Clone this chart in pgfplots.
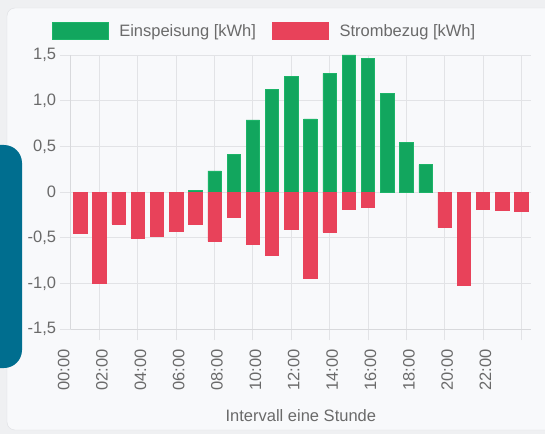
\documentclass[border=0pt]{standalone}
\usepackage{fontspec}
\setmainfont{Liberation Sans}
\usepackage{pgfplots}
\usepackage{pgfplotstable}
\pgfplotsset{compat=1.18}
\definecolor{bgout}{HTML}{EFF0F2}
\definecolor{card}{HTML}{F8F9FB}
\definecolor{cardborder}{HTML}{DFE0E3}
\definecolor{teal}{HTML}{006E8F}
\definecolor{einsp}{HTML}{12A65E}
\definecolor{einspb}{HTML}{1CB468}
\definecolor{bezug}{HTML}{E8425A}
\definecolor{gridgray}{HTML}{E2E3E6}
\definecolor{axgray}{HTML}{D8D9DC}
\definecolor{txtgray}{HTML}{6A6A6A}
\newcommand\chartfont{\fontsize{16.5}{19}\selectfont}

% hour (interval end), value
\pgfplotstableread{
x y
7 0.015
8 0.23
9 0.41
10 0.79
11 1.12
12 1.27
13 0.80
14 1.30
15 1.50
16 1.46
17 1.08
18 0.54
19 0.30
}\einspeisung
\pgfplotstableread{
x y
1 -0.45
2 -1.00
3 -0.35
4 -0.51
5 -0.48
6 -0.43
7 -0.35
8 -0.54
9 -0.28
10 -0.57
11 -0.69
12 -0.41
13 -0.95
14 -0.44
15 -0.19
16 -0.17
20 -0.39
21 -1.02
22 -0.19
23 -0.20
24 -0.21
}\strombezug

\begin{document}
\begin{tikzpicture}
\useasboundingbox (0,0) rectangle (545pt,434pt);
\clip (0,0) rectangle (545pt,434pt);
\fill[bgout] (0,0) rectangle (545pt,434pt);
\draw[cardborder, fill=card, rounded corners=8pt] (7pt,4pt) rectangle (570pt,426pt);
\fill[teal, rounded corners=18pt] (-30pt,66pt) rectangle (22pt,289pt);
\begin{axis}[
  at={(70.7pt,105pt)}, anchor=south west,
  scale only axis, width=460.3pt, height=274pt,
  xmin=0.5, xmax=24.5, ymin=-1.5, ymax=1.5,
  axis x line*=bottom, axis y line*=left,
  axis line style={draw=axgray, line width=0.9pt, -},
  xtick={2,4,...,24},
  xticklabels={02:00,04:00,06:00,08:00,10:00,12:00,14:00,16:00,18:00,20:00,22:00,{}},
  ytick={-1.5,-1,-0.5,0,0.5,1,1.5},
  yticklabels={{-1,5},{-1,0},{-0,5},0,{0,5},{1,0},{1,5}},
  tick align=outside, major tick length=11pt,
  tick style={draw=gridgray, line width=0.9pt},
  grid=major, grid style={draw=gridgray, line width=0.9pt},
  ticklabel style={font=\chartfont, text=txtgray},
  xticklabel style={xshift=2.5pt, yshift=-6pt, rotate=90, anchor=east},
  xlabel={Intervall eine Stunde},
  xlabel style={font=\chartfont, text=txtgray, at={(axis description cs:0.5,0)}, anchor=center, yshift=-87pt},
  clip=false,
  legend columns=2,
  legend style={at={(0.421,1.0876)}, anchor=center, draw=none, fill=none,
    font=\chartfont, text=txtgray,
    /tikz/every even column/.append style={column sep=14pt},
    inner sep=0pt},
  legend cell align=left,
  legend image code/.code={\draw[#1,/tikz/.cd] (0pt,-8.5pt) rectangle (56pt,8.5pt); \path (65pt,0pt);},
]
\addplot[ybar, bar width=0.7, bar shift=0pt, fill=einsp, draw=einspb, line width=0.6pt] table[x=x,y=y] {\einspeisung};
\addlegendentry{Einspeisung [kWh]}
\addplot[ybar, bar width=0.7, bar shift=0pt, fill=bezug, draw=bezug, line width=0.6pt] table[x=x,y=y] {\strombezug};
\addlegendentry{Strombezug [kWh]}
\node[xshift=2.5pt, yshift=-17pt, rotate=90, anchor=east, font=\chartfont, text=txtgray, inner sep=0.3333em] at (axis cs:0,-1.5) {00:00};
\end{axis}
\end{tikzpicture}
\end{document}
